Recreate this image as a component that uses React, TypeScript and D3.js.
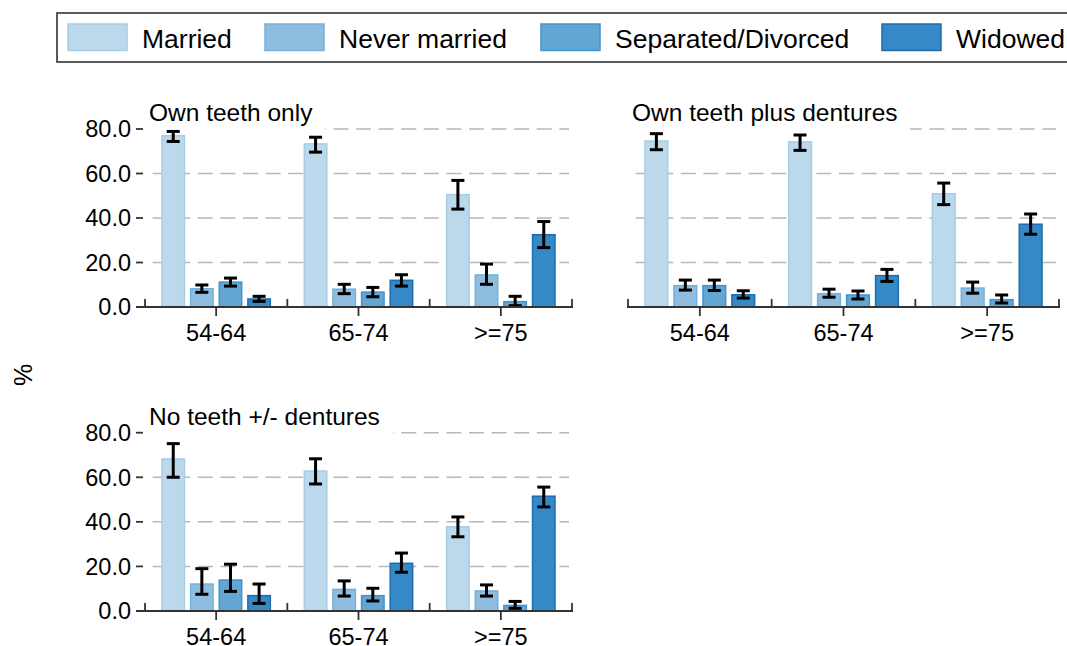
import React from "react";
import * as d3 from "d3";

const categories = ["54-64", "65-74", ">=75"];
const series = ["Married", "Never married", "Separated/Divorced", "Widowed"];
const panelTitles = ["Own teeth only", "Own teeth plus dentures", "No teeth +/- dentures"];
const yTicks = [0, 20, 40, 60, 80];
const yTickLabels = ["0.0", "20.0", "40.0", "60.0", "80.0"];

// values[category][series]
const ownTeethOnly = [
  [77.0, 8.2, 11.2, 3.6],
  [73.3, 8.0, 6.7, 12.0],
  [50.5, 14.4, 2.4, 32.5],
];
const ownTeethOnlyLo = [
  [74.4, 6.6, 9.4, 2.5],
  [69.6, 6.0, 4.6, 9.4],
  [44.0, 10.2, 0.6, 26.7],
];
const ownTeethOnlyHi = [
  [78.9, 9.9, 13.0, 4.8],
  [76.3, 10.2, 8.8, 14.5],
  [56.9, 19.3, 4.8, 38.4],
];

const plusDentures = [
  [74.6, 9.6, 9.6, 5.5],
  [74.2, 6.0, 5.4, 14.1],
  [50.9, 8.5, 3.3, 37.2],
];
const plusDenturesLo = [
  [70.7, 7.6, 7.4, 4.0],
  [70.4, 4.4, 3.6, 11.5],
  [46.0, 6.2, 1.8, 32.7],
];
const plusDenturesHi = [
  [77.9, 12.1, 12.1, 7.3],
  [77.3, 8.0, 7.2, 16.9],
  [55.7, 11.2, 5.4, 41.8],
];

const noTeeth = [
  [68.2, 12.1, 13.9, 6.9],
  [62.8, 9.7, 6.9, 21.4],
  [37.8, 9.0, 2.5, 51.5],
];
const noTeethLo = [
  [60.0, 7.5, 8.8, 3.4],
  [57.0, 6.7, 4.5, 17.4],
  [33.3, 6.7, 1.2, 46.7],
];
const noTeethHi = [
  [75.1, 19.0, 21.0, 12.1],
  [68.3, 13.5, 10.2, 26.0],
  [42.2, 11.7, 4.3, 55.6],
];

const fills = ["#bcd8eb", "#8ebde0", "#62a6d3", "#3589c6"];
const strokes = ["#a6cce7", "#74b0da", "#4393cc", "#1d6cae"];

const FONT = "'Liberation Sans', Arial, Helvetica, sans-serif";

type PanelProps = {
  title: string;
  vals: number[][];
  lo: number[][];
  hi: number[][];
  x0: number;
  x1: number;
  yBottom: number;
  yTop: number;
  showY: boolean;
  titleX: number;
  titleBoxRight: number;
};

function Panel({ title, vals, lo, hi, x0, x1, yBottom, yTop, showY, titleX, titleBoxRight }: PanelProps) {
  const x = d3.scaleBand<string>().domain(categories).range([x0, x1]).paddingInner(0).paddingOuter(0);
  const bw = x.bandwidth();
  const inner = d3
    .scaleBand<string>()
    .domain(series)
    .range([16.5, bw - 16.5])
    .paddingInner(0.18)
    .paddingOuter(0);
  const y = d3.scaleLinear().domain([0, 80]).range([yBottom, yTop]);
  const capW = 13;
  return (
    <g>
      {/* grid */}
      {yTicks.filter((t) => t > 0).map((t) => (
        <line
          key={"g" + t}
          x1={x0}
          x2={x1 - 3}
          y1={y(t)}
          y2={y(t)}
          stroke="#b8b8b8"
          strokeWidth={1.5}
          strokeDasharray="15,7.6"
          strokeDashoffset={-7.6}
        />
      ))}
      {/* title background + title */}
      <rect x={titleX - 4} y={y(80) - 36} width={titleBoxRight - titleX + 4} height={38} fill="#fff" />
      <text x={titleX} y={y(80) - 8} fontFamily={FONT} fontSize={24.5} fill="#000">
        {title}
      </text>
      {/* bars */}
      {categories.map((c, ci) =>
        series.map((s, si) => {
          const bx = (x(c) as number) + (inner(s) as number);
          const v = vals[ci][si];
          return (
            <rect
              key={c + s}
              x={bx + 0.5}
              y={y(v)}
              width={inner.bandwidth() - 1}
              height={y(0) - y(v)}
              fill={fills[si]}
              stroke={strokes[si]}
              strokeWidth={1.5}
            />
          );
        })
      )}
      {/* error bars */}
      {categories.map((c, ci) =>
        series.map((s, si) => {
          const cx = (x(c) as number) + (inner(s) as number) + inner.bandwidth() / 2;
          const l = y(lo[ci][si]);
          const h = y(hi[ci][si]);
          return (
            <g key={"e" + c + s} stroke="#000" strokeWidth={3}>
              <line x1={cx} x2={cx} y1={l} y2={h} />
              <line x1={cx - capW / 2} x2={cx + capW / 2} y1={l} y2={l} />
              <line x1={cx - capW / 2} x2={cx + capW / 2} y1={h} y2={h} />
            </g>
          );
        })
      )}
      {/* x axis */}
      <line x1={showY ? x0 - 9 : x0 - 1} x2={x1 + 1} y1={y(0)} y2={y(0)} stroke="#333" strokeWidth={1.8} />
      {[...categories.map((c) => x(c) as number), x1].map((bx, i) => (
        <line key={"bt" + i} x1={bx} x2={bx} y1={y(0)} y2={y(0) - 8} stroke="#333" strokeWidth={1.8} />
      ))}
      {categories.map((c) => {
        const cx = (x(c) as number) + bw / 2;
        return (
          <g key={"ct" + c}>
            <line x1={cx} x2={cx} y1={y(0)} y2={y(0) + 9} stroke="#333" strokeWidth={1.8} />
            <text x={cx} y={y(0) + 34} textAnchor="middle" fontFamily={FONT} fontSize={23.5} fill="#000">
              {c}
            </text>
          </g>
        );
      })}
      {/* y axis */}
      {showY &&
        yTicks.map((t, i) => (
          <g key={"yt" + t}>
            <line x1={x0 - 9} x2={x0 - 2} y1={y(t)} y2={y(t)} stroke="#333" strokeWidth={1.8} />
            <text
              x={x0 - 14}
              y={y(t)}
              dy="0.36em"
              textAnchor="end"
              fontFamily={FONT}
              fontSize={23.5}
              fill="#000"
            >
              {yTickLabels[i]}
            </text>
          </g>
        ))}
    </g>
  );
}

const legendX = [68, 265, 541, 882];

export default function App() {
  return (
    <svg
      width={1067}
      height={646}
      style={{ position: "absolute", left: 0, top: 0, background: "#fff" }}
    >
      <rect x={0} y={0} width={1067} height={646} fill="#fff" />
      {/* legend */}
      <rect x={57} y={13} width={1030} height={49} fill="#fff" stroke="#333" strokeWidth={1.6} />
      {series.map((s, i) => (
        <g key={"lg" + s}>
          <rect x={legendX[i]} y={24} width={59} height={26.5} fill={fills[i]} stroke={strokes[i]} strokeWidth={1.5} />
          <text x={legendX[i] + 74} y={47.5} fontFamily={FONT} fontSize={26.5} fill="#000">
            {s}
          </text>
        </g>
      ))}
      <text
        transform="translate(32,375) rotate(-90)"
        textAnchor="middle"
        fontFamily={FONT}
        fontSize={25}
        fill="#000"
      >
        %
      </text>
      <Panel
        title={panelTitles[0]}
        vals={ownTeethOnly}
        lo={ownTeethOnlyLo}
        hi={ownTeethOnlyHi}
        x0={145}
        x1={572}
        yBottom={307}
        yTop={129}
        showY={true}
        titleX={149}
        titleBoxRight={325}
      />
      <Panel
        title={panelTitles[1]}
        vals={plusDentures}
        lo={plusDenturesLo}
        hi={plusDenturesHi}
        x0={628}
        x1={1059}
        yBottom={307}
        yTop={129}
        showY={false}
        titleX={632}
        titleBoxRight={910}
      />
      <Panel
        title={panelTitles[2]}
        vals={noTeeth}
        lo={noTeethLo}
        hi={noTeethHi}
        x0={145}
        x1={572}
        yBottom={611}
        yTop={432.7}
        showY={true}
        titleX={149}
        titleBoxRight={393}
      />
    </svg>
  );
}
